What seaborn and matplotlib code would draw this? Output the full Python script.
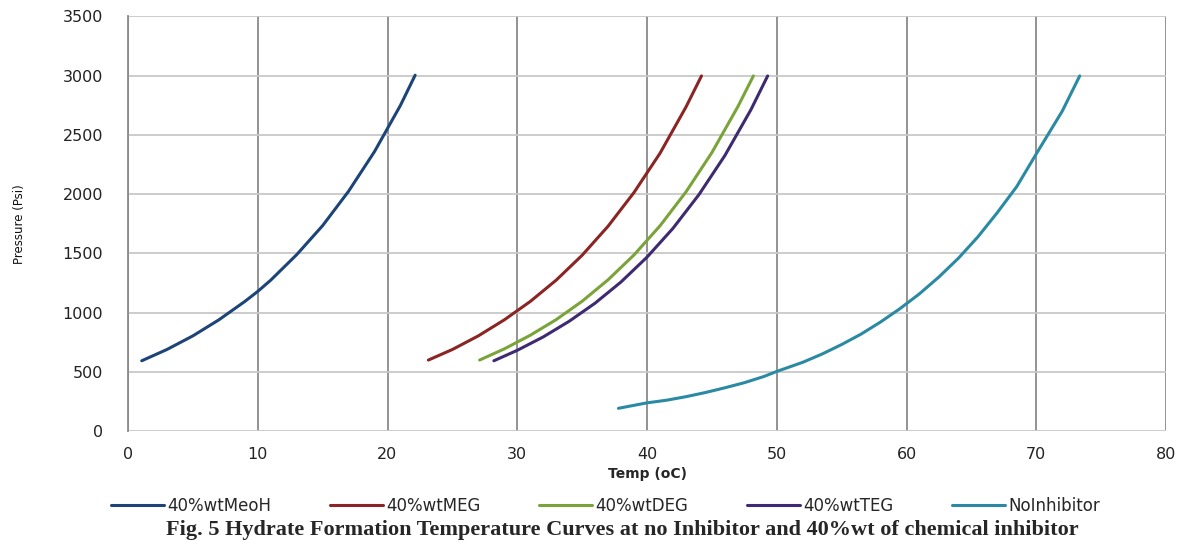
import numpy as np
import pandas as pd
import matplotlib
matplotlib.use("Agg")
import matplotlib.pyplot as plt
import seaborn as sns

series_names = ["40%wtMeoH", "40%wtMEG", "40%wtDEG", "40%wtTEG", "NoInhibitor"]

meoh_temp = [1.06, 3, 5, 7, 9, 10, 11, 13, 15, 17, 19, 20, 21, 22.13]
meoh_pres = [595, 690, 805, 940, 1095, 1180, 1275, 1490, 1735, 2025, 2360, 2555, 2750, 3004]

meg_temp = [23.15, 25, 27, 29, 31, 33, 35, 37, 39, 41, 43, 44.2]
meg_pres = [601, 690, 805, 940, 1095, 1275, 1485, 1730, 2015, 2345, 2735, 2998]

deg_temp = [27.1, 29, 31, 33, 35, 37, 39, 41, 43, 45, 47, 48.2]
deg_pres = [601, 695, 810, 942, 1097, 1278, 1488, 1733, 2019, 2351, 2738, 2998]

teg_temp = [28.2, 30, 32, 34, 36, 38, 40, 42, 44, 46, 48, 49.3]
teg_pres = [595, 683, 796, 928, 1081, 1260, 1469, 1712, 1996, 2326, 2711, 2998]

noinh_temp = [37.8, 40, 41.5, 43, 44.5, 46, 47.5, 49, 50, 52, 53.5, 55, 56.5, 58,
              59.5, 61, 62.5, 64, 65.5, 67, 68.5, 70, 72, 73.35]
noinh_pres = [194, 240, 262, 292, 327, 367, 410, 462, 505, 582, 652, 732, 820, 922,
              1035, 1160, 1302, 1460, 1640, 1845, 2065, 2340, 2700, 2998]

x_ticks = [0, 10, 20, 30, 40, 50, 60, 70, 80]
y_ticks = [0, 500, 1000, 1500, 2000, 2500, 3000, 3500]

colors = ["#1d4478", "#8a2524", "#7aa43a", "#3e2a70", "#2b8aa3"]

frames = []
for name, t, p in zip(series_names,
                      [meoh_temp, meg_temp, deg_temp, teg_temp, noinh_temp],
                      [meoh_pres, meg_pres, deg_pres, teg_pres, noinh_pres]):
    frames.append(pd.DataFrame({"Temp": t, "Pressure": p, "Series": name}))
df = pd.concat(frames, ignore_index=True)

sns.set_theme(style="white")
plt.rcParams['font.family'] = ['DejaVu Sans']

fig = plt.figure(figsize=(11.86, 5.44), dpi=100)
ax = fig.add_axes([128 / 1186, 1 - 431.3 / 544, (1166 - 128) / 1186, (431.3 - 16.4) / 544])

sns.lineplot(data=df, x="Temp", y="Pressure", hue="Series", hue_order=series_names,
             palette=colors, sort=False, linewidth=2.2, ax=ax, legend=True)

ax.set_xlim(0, 80)
ax.set_ylim(0, 3500)
ax.set_xticks(x_ticks)
ax.set_yticks(y_ticks)
ax.set_xticklabels([str(v) for v in x_ticks], fontsize=11.5, color="#222222")
ax.set_yticklabels([str(v) for v in y_ticks], fontsize=11.5, color="#222222")
ax.grid(True, axis="y", color="#c8c8c8", linewidth=1.3)
ax.grid(True, axis="x", color="#8a8a8a", linewidth=1.3)
for s in ["top", "right", "bottom"]:
    ax.spines[s].set_visible(False)
ax.spines["left"].set_color("#8a8a8a")
ax.spines["left"].set_linewidth(1.3)
ax.tick_params(axis="x", length=5, width=1.3, color="#8a8a8a", pad=6)
ax.tick_params(axis="y", length=7, width=1.3, color="#c8c8c8", pad=11)

ax.set_xlabel("Temp (oC)", fontsize=10, fontweight="bold", labelpad=4)
ax.set_ylabel("Pressure (Psi)", fontsize=8.5, labelpad=26, color="#111111")

handles, labels = ax.get_legend_handles_labels()
ax.legend(handles, labels, loc="center", bbox_to_anchor=(0.46, -0.18), ncol=5,
          frameon=False, fontsize=12, handlelength=3.2, columnspacing=3.5,
          handletextpad=0.2, borderaxespad=0)

fig.text(622 / 1186, 1 - 530 / 544,
         "Fig. 5 Hydrate Formation Temperature Curves at no Inhibitor and 40%wt of chemical inhibitor",
         ha="center", va="center", fontsize=16, fontweight="bold", family="Liberation Serif")

fig.savefig("out.png", dpi=100)
